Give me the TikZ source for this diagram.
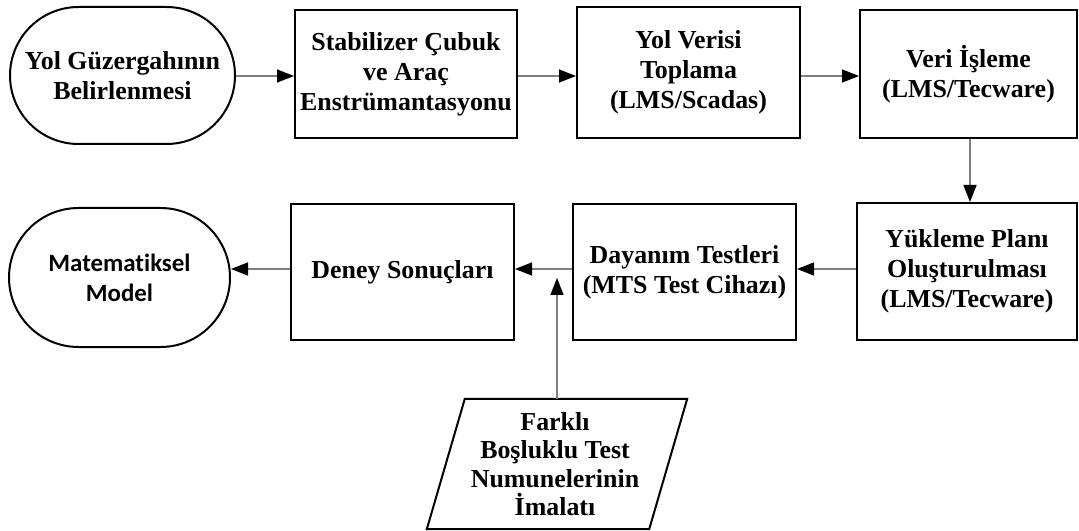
\documentclass[tikz,border=0pt]{standalone}
\usepackage{fontspec}
\setmainfont{Liberation Serif}
\newfontfamily\calfont{Carlito}[Ligatures=NoCommon]
\usetikzlibrary{shapes.misc,arrows.meta,calc}
\tikzset{
  txt/.style={align=center, inner sep=0pt, font=\bfseries\fontsize{26}{30}\selectfont},
  proc/.style={txt, draw, line width=2bp, minimum height=128bp},
  term/.style={txt, rounded rectangle, draw, line width=2bp, minimum height=137bp},
  conn/.style={line width=1.5bp, draw=black!50, -{Triangle[length=17bp,width=13bp,color=black]}},
}
\begin{document}
\begin{tikzpicture}[x=1bp,y=-1bp]
\useasboundingbox (0,0) rectangle (1079,531);
% row 1
\node[term, minimum width=225bp] (st1) at (122.5,75.5) {Yol Güzergahının\\Belirlenmesi};
\node[proc, minimum width=222bp] (b2) at (406,74) {Stabilizer Çubuk\\ve Araç\\Enstrümantasyonu};
\node[proc, minimum width=223bp, minimum height=131bp] (b3) at (688.5,72.5) {Yol Verisi\\Toplama\\(LMS/Scadas)};
\node[proc, minimum width=217bp] (b4) at (968.5,74) {Veri İşleme\\(LMS/Tecware)};
% row 2
\node[term, minimum width=221bp, minimum height=139bp, font=\calfont\bfseries\fontsize{25}{30}\selectfont] (st2) at (119.5,277.5) {Matematiksel\\Model};
\node[proc, minimum width=223bp, minimum height=136bp] (dn) at (402.5,272) {Deney Sonuçları};
\node[proc, minimum width=223bp, minimum height=136bp] (dt) at (684.5,272) {Dayanım Testleri\\(MTS Test Cihazı)};
\node[proc, minimum width=220bp, minimum height=137bp] (yk) at (967,271.5) {Yükleme Planı\\Oluşturulması\\(LMS/Tecware)};
% parallelogram
\node[txt, minimum width=222bp, minimum height=130bp, font=\bfseries\fontsize{26}{28.5}\selectfont] (par) at (555,464) {Farklı\\Boşluklu Test\\Numunelerinin\\İmalatı};
\draw[line width=2bp, line join=miter] ($(par.north west)+(21,0)$) -- ($(par.north east)+(21,0)$) -- ($(par.south east)-(17,0)$) -- ($(par.south west)-(17,0)$) -- cycle;
% helper coordinates
\coordinate (v) at (970,0);
\coordinate (r1) at (0,76);
\coordinate (r2) at (0,269);
\coordinate (jn) at (557,278);
% connectors
\draw[conn] (st1.east |- r1) -- (b2.west |- r1);
\draw[conn] (b2.east |- r1) -- (b3.west |- r1);
\draw[conn] (b3.east |- r1) -- (b4.west |- r1);
\draw[conn] (b4.south -| v) -- (yk.north -| v);
\draw[conn] (yk.west |- r2) -- (dt.east |- r2);
\draw[conn] (dt.west |- r2) -- (dn.east |- r2);
\draw[conn] (dn.west |- r2) -- (st2.east |- r2);
\draw[conn] (par.north -| jn) -- (jn);
\end{tikzpicture}
\end{document}
